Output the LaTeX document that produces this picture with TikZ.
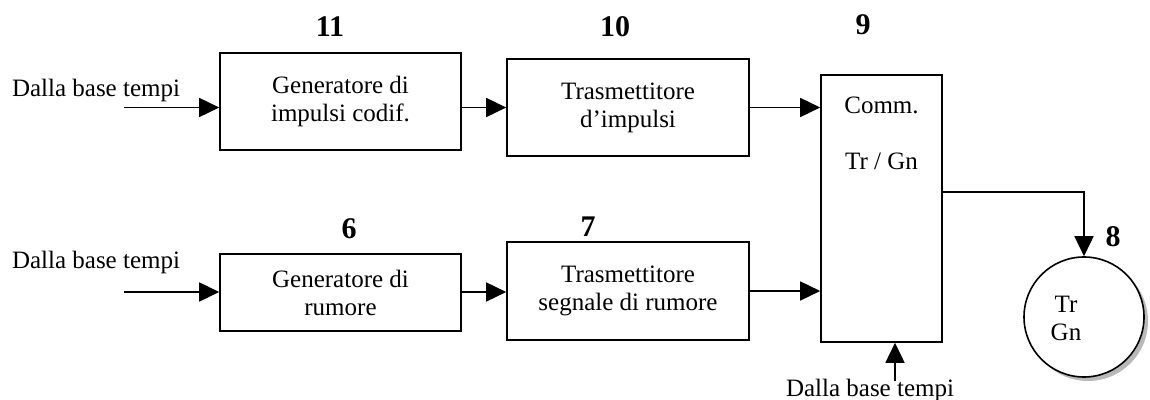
\documentclass[tikz,border=0pt]{standalone}
\usepackage{fontspec}
\setmainfont{Liberation Serif}
\usetikzlibrary{arrows.meta,shadows}

\begin{document}
\begin{tikzpicture}[x=0.5pt, y=-0.5pt,
    font=\fontsize{12.5}{14}\selectfont,
    blockbox/.style={draw, line width=0.8pt, align=center, inner sep=0pt},
    arr/.style={line width=0.8pt, -{Triangle[length=10pt, width=9.5pt]}},
    num/.style={font=\fontsize{15}{15}\selectfont\bfseries}]
    \useasboundingbox (0,0) rectangle (1150,400);

    % Blocks, upper row
    \node[blockbox, minimum width=120.5pt, minimum height=48.5pt] (gen11) at (340.5,101.5) {Generatore di\\ impulsi codif.};
    \node[blockbox, minimum width=121pt, minimum height=48.5pt] (tx10) at (628,107.5) {Trasmettitore\\ d'impulsi};

    % Blocks, lower row
    \node[blockbox, minimum width=120.5pt, minimum height=38.5pt] (gen6) at (340.5,292.5) {Generatore di\\ rumore};
    \node[blockbox, minimum width=121pt, minimum height=49pt] (tx7) at (628,291) {Trasmettitore\\ segnale di rumore};

    % Switch Tr / Gn
    \node[blockbox, minimum width=60.5pt, minimum height=133.5pt] (comm9) at (881.5,208.5) {};
    \node[anchor=north, align=center] (commtxt) at ([yshift=-8pt]comm9.north) {Comm.\\[14pt]Tr / Gn};

    % Output lamp
    \node[draw, circle, line width=0.8pt, fill=white, minimum size=60pt,
          general shadow={shadow xshift=2pt, shadow yshift=-2pt, fill=gray!55}] (lamp) at (1084,317) {};
    \node[align=center] (lamptxt) at (1066,318) {Tr\\ Gn};

    % Block numbers
    \node[num] (n11) at (330,27) {11};
    \node[num] (n10) at (615,27) {10};
    \node[num] (n9) at (863,25) {9};
    \node[num] (n6) at (349,229) {6};
    \node[num] (n7) at (588,227) {7};
    \node[num] (n8) at (1113,237) {8};

    % Inputs from the time base
    \node (tb11) at (96,90) {Dalla base tempi};
    \node (tb6) at (96,262) {Dalla base tempi};
    \node (tb9) at (870,390) {Dalla base tempi};
    \coordinate (in11) at (124,107.5);
    \coordinate (in6) at (124,292);
    \coordinate (in9) at (895,381);
    \coordinate (bend) at (1084,192);

    % Connections
    \draw[arr] (in11) -- (in11 -| gen11.west);
    \draw[arr] (gen11.east |- tx10.west) -- (tx10.west);
    \draw[arr] (tx10.east) -- (tx10.east -| comm9.west);
    \draw[arr] (in6) -- (in6 -| gen6.west);
    \draw[arr] (gen6.east |- in6) -- (gen6.east |- in6 -| tx7.west);
    \draw[arr] (tx7.east) -- (tx7.east -| comm9.west);
    \draw[arr] (in9) -- (in9 |- comm9.south);
    \draw[arr] (bend -| comm9.east) -- (bend) -- (lamp.north);
\end{tikzpicture}
\end{document}
